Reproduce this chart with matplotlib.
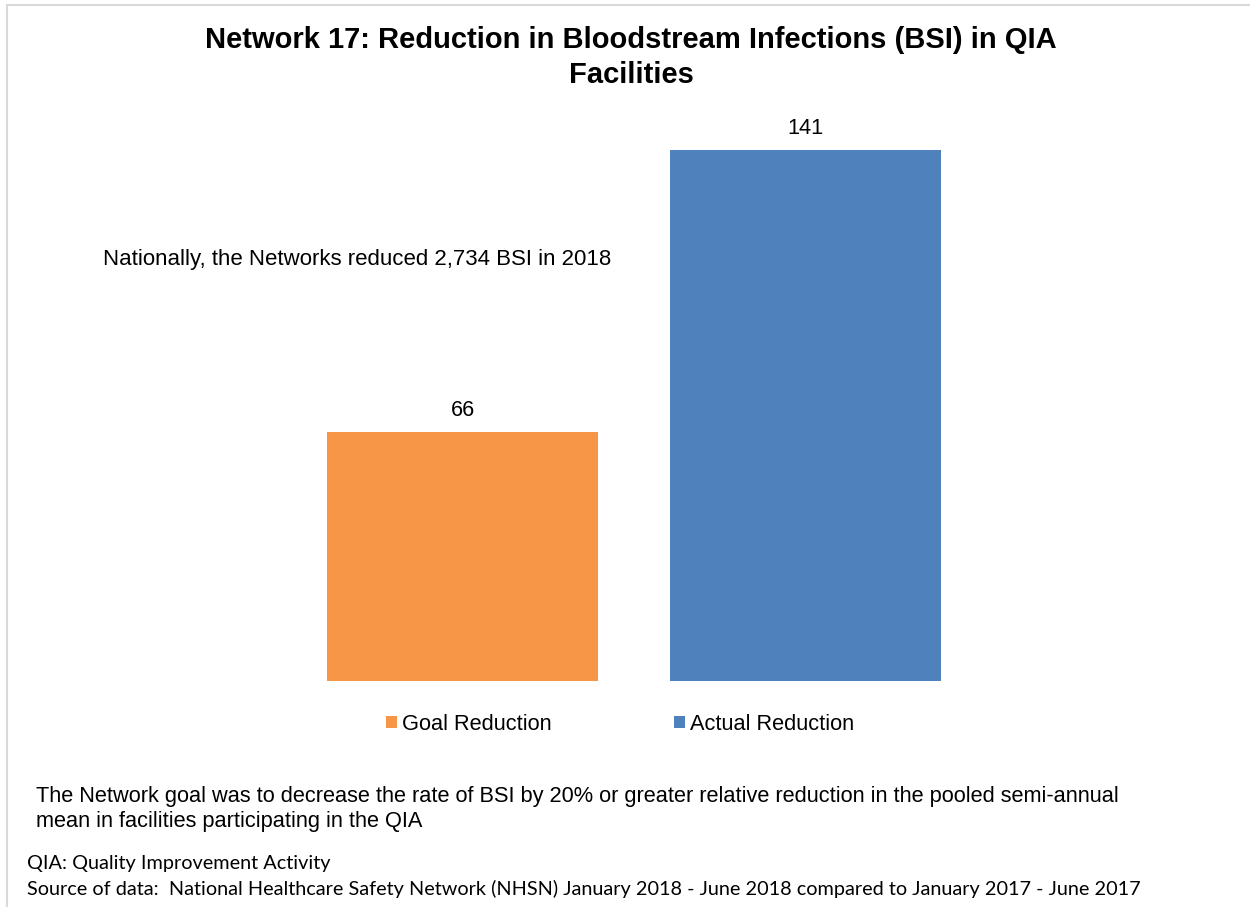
import matplotlib
matplotlib.use("Agg")
import matplotlib.pyplot as plt
from matplotlib.lines import Line2D
from matplotlib.patches import Patch

categories = ["Goal Reduction", "Actual Reduction"]
values = [66, 141]
colors = ["#F79646", "#4F81BD"]

title = "Network 17: Reduction in Bloodstream Infections (BSI) in QIA\nFacilities"
national_note = "Nationally, the Networks reduced 2,734 BSI in 2018"
goal_note = ("The Network goal was to decrease the rate of BSI by 20% or greater relative reduction in the pooled semi-annual\n"
             "mean in facilities participating in the QIA")
qia_note = "QIA: Quality Improvement Activity"
source_note = "Source of data:  National Healthcare Safety Network (NHSN) January 2018 - June 2018 compared to January 2017 - June 2017"

W, H = 1250, 907
fig = plt.figure(figsize=(W / 100, H / 100), dpi=100)
plt.rcParams['font.family'] = ['Liberation Sans', 'DejaVu Sans']

def fx(x): return x / W
def fy(y): return 1 - y / H

# axes: x from 291 to 977 px, bottom at 681, top 116
left, right, bottom, top = 291, 977, 681, 116
ax = fig.add_axes([fx(left), fy(bottom), fx(right - left), (bottom - top) / H])
x = [0, 1]
bars = ax.bar(x, values, width=0.79, color=colors)
ax.set_xlim(-0.5, 1.5)
ax.set_ylim(0, 150)
ax.axis("off")
for xi, v in zip(x, values):
    ax.text(xi, v + 3.0, str(v), ha="center", va="bottom", fontsize=15.7, color="#000000")

fig.text(fx(631), fy(57.5), title, ha="center", va="center", fontsize=21, fontweight="bold",
         linespacing=1.28)
fig.text(fx(103), fy(259), national_note, ha="left", va="center", fontsize=16)

handles = [Patch(facecolor=c, edgecolor="none") for c in colors]
fig.legend(handles, categories, loc="center", bbox_to_anchor=(fx(620), fy(724)), ncol=2,
           frameon=False, fontsize=15.7, handlelength=0.5, handleheight=0.5, handletextpad=0.25,
           columnspacing=5.6, borderpad=0, borderaxespad=0)

fig.text(fx(36), fy(809), goal_note, ha="left", va="center", fontsize=15.7, linespacing=1.2)
fig.text(fx(27), fy(864), qia_note, ha="left", va="center", fontsize=14.3, family=['Lato', 'DejaVu Sans'])
fig.text(fx(27), fy(889), source_note, ha="left", va="center", fontsize=14.3, family=['Lato', 'DejaVu Sans'])

# faint border
fig.add_artist(Line2D([fx(7), 1], [fy(5), fy(5)], color="#d9d9d9", lw=1.5))
fig.add_artist(Line2D([fx(7), fx(7)], [fy(5), 0], color="#d9d9d9", lw=1.5))

fig.savefig("out.png", dpi=100)
